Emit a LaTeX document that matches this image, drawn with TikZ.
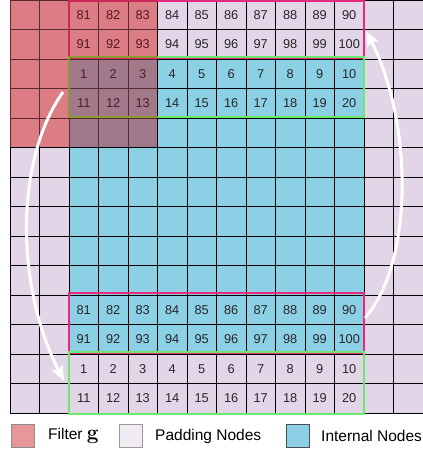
\documentclass[tikz,border=0pt]{standalone}
\usepackage[no-math]{fontspec}
\setmainfont{Liberation Sans}
\usetikzlibrary{arrows.meta}
\definecolor{pad}{HTML}{E1D5E7}
\definecolor{intl}{HTML}{8CD0E6}
\definecolor{filtpad}{HTML}{DC7C84}
\definecolor{filtint}{HTML}{A07A8A}
\definecolor{filtline}{HTML}{5A2A30}
\definecolor{filttext}{HTML}{551A22}
\definecolor{mag}{HTML}{E8287F}
\definecolor{magdark}{HTML}{C8285A}
\definecolor{grn}{HTML}{6CE86C}
\definecolor{grndark}{HTML}{8A9A30}
\definecolor{legred}{HTML}{E8969A}
\definecolor{legpad}{HTML}{F0EAF3}
\begin{document}
\begin{tikzpicture}[x=1pt,y=-1pt,
  cell/.style={draw=black, line width=0.9pt, minimum size=29.5pt, inner sep=0pt,
    font=\fontsize{12.8}{14}\selectfont},
  hilite/.style={line width=2pt},
  flow/.style={draw=white, line width=3pt, -{Stealth[length=15pt,width=12pt,inset=3pt]}},
  swatch/.style={minimum size=23pt, inner sep=0pt, line width=0.9pt},
  legtext/.style={anchor=west, inner sep=0pt, font=\fontsize{15.5}{18}\selectfont}]
\useasboundingbox (0,0) rectangle (423,451);
\foreach \r in {0,...,13}{
  \foreach \c in {0,...,13}{
    \pgfmathtruncatemacro{\isint}{(\r>1)&&(\r<12)&&(\c>1)&&(\c<12)}
    \pgfmathtruncatemacro{\isfil}{(\r<5)&&(\c<5)}
    \pgfmathtruncatemacro{\rr}{mod(\r,10)}
    \pgfmathsetmacro{\xx}{10+29.5*\c+14.75}
    \pgfmathsetmacro{\yy}{29.5*\r+14.75}
    \ifnum\isfil=1
      \ifnum\isint=1 \def\cf{filtint}\else\def\cf{filtpad}\fi
      \def\lc{filtline}\def\tc{filttext}
    \else
      \ifnum\isint=1 \def\cf{intl}\else\def\cf{pad}\fi
      \def\lc{black}\def\tc{black!85}
    \fi
    \def\lab{}
    \ifnum\c>1 \ifnum\c<12
      \ifnum\rr=0 \pgfmathtruncatemacro{\lab}{79+\c}\fi
      \ifnum\rr=1 \pgfmathtruncatemacro{\lab}{89+\c}\fi
      \ifnum\rr=2 \pgfmathtruncatemacro{\lab}{\c-1}\fi
      \ifnum\rr=3 \pgfmathtruncatemacro{\lab}{9+\c}\fi
    \fi\fi
    \node[cell, fill=\cf, draw=\lc, text=\tc] (c-\r-\c) at (\xx,\yy) {\lab};
  }
}
% highlight boxes
\draw[hilite, mag] (c-0-2.north west) ++(0.5,1) rectangle ([xshift=-0.5pt,yshift=1.5pt]c-1-11.south east);
\draw[hilite, grn] ([xshift=0.5pt,yshift=1.5pt]c-2-2.north west) rectangle ([xshift=-0.5pt,yshift=1.5pt]c-3-11.south east);
\draw[hilite, mag] ([xshift=0.5pt,yshift=1.5pt]c-10-2.north west) rectangle ([xshift=-0.5pt,yshift=1.5pt]c-11-11.south east);
\draw[hilite, grn] ([xshift=0.5pt,yshift=1.5pt]c-12-2.north west) rectangle ([xshift=-0.5pt,yshift=-0.5pt]c-13-11.south east);
\begin{scope}
  \clip (c-0-0.north west) rectangle (c-4-4.south east);
  \draw[hilite, magdark] (c-0-2.north west) ++(0.5,1) rectangle ([xshift=-0.5pt,yshift=1.5pt]c-1-11.south east);
  \draw[hilite, grndark] ([xshift=0.5pt,yshift=1.5pt]c-2-2.north west) rectangle ([xshift=-0.5pt,yshift=1.5pt]c-3-11.south east);
\end{scope}
% arrows
\coordinate (a1s) at (63,92);
\coordinate (a1e) at (64,381);
\coordinate (a2s) at (365,318);
\coordinate (a2e) at (366,31);
\draw[flow] (a1s) .. controls (15,160) and (15,285) .. (a1e);
\draw[flow] (a2s) .. controls (415,260) and (412,120) .. (a2e);
% legend
\node[swatch, fill=legred, draw=black!45] (s1) at (22.5,435.5) {};
\node[legtext] (t1) at (48,436) {Filter {\fontsize{20}{22}\selectfont$\mathbf{g}$}};
\node[swatch, fill=legpad, draw=black!40] (s2) at (131,435.5) {};
\node[legtext] (t2) at (155,436) {Padding Nodes};
\node[swatch, fill=intl, draw=black!70] (s3) at (297.5,435.5) {};
\node[legtext] (t3) at (321,436) {Internal Nodes};
\end{tikzpicture}
\end{document}
